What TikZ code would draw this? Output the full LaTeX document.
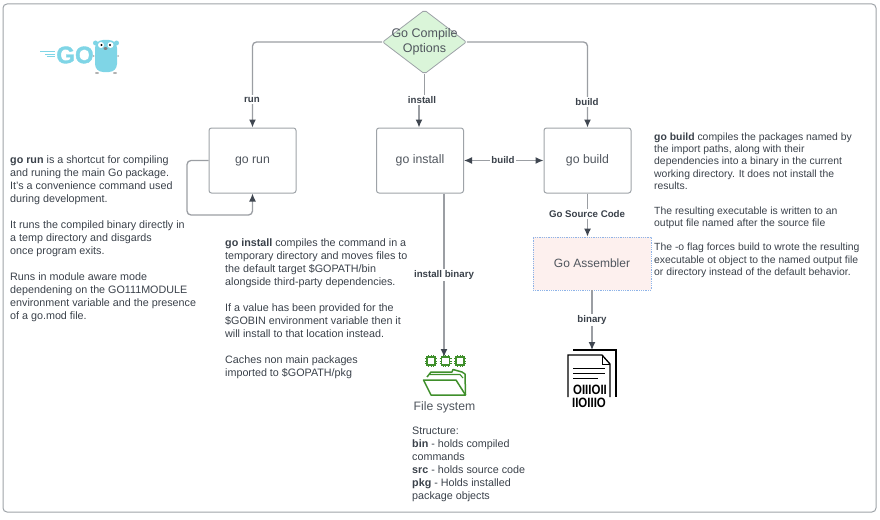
\documentclass[tikz,border=0pt]{standalone}
\usepackage{fontspec}
\setmainfont{Liberation Sans}
\usetikzlibrary{arrows.meta,shapes.geometric}
\definecolor{textgray}{HTML}{3A414A}
\definecolor{boxtext}{HTML}{50565E}
\definecolor{wiregray}{HTML}{9B9EA3}
\definecolor{tipgray}{HTML}{3F4650}
\definecolor{framegray}{HTML}{9EA3A8}
\definecolor{optgreen}{HTML}{DAF5D9}
\definecolor{asmpink}{HTML}{FDF0EE}
\definecolor{asmblue}{HTML}{8FB4E8}
\definecolor{gocyan}{HTML}{7FD5E6}
\definecolor{fsgreen}{HTML}{3F8F2B}
\tikzset{
    box/.style={draw=framegray, line width=1pt, rectangle, rounded corners=2.5pt, minimum width=87pt, minimum height=65pt,
        text=boxtext, text height=9pt, text depth=3pt, font=\fontsize{12.3}{15}\selectfont},
    wire/.style={draw=wiregray, line width=1.3pt, rounded corners=4pt, -{Latex[length=8pt,width=7pt,color=tipgray]}},
    plainwire/.style={draw=wiregray, line width=1.3pt},
    lab/.style={fill=white, inner xsep=1pt, inner ysep=1.5pt, text=textgray, font=\fontsize{9.7}{11}\selectfont\bfseries},
    para/.style={anchor=north west, inner sep=0pt, align=left, text=textgray, font=\fontsize{10.75}{13}\selectfont},
    parb/.style={para, font=\fontsize{10.4}{12.3}\selectfont},
    binrow/.style={inner sep=0pt, text=black, font=\fontsize{13.5}{13.5}\selectfont\bfseries\addfontfeature{FakeStretch=0.85}}
}
\begin{document}
\begin{tikzpicture}[x=1pt, y=-1pt]
        \useasboundingbox (0,0) rectangle (880,519);
        \draw[framegray, line width=1pt, rounded corners=4pt] (3,4) rectangle (876,512);

        \node[box] (gorun) at (252.5,160.5) {go run};
        \node[box] (goinstall) at (420,160.5) {go install};
        \node[box] (gobuild) at (587.5,160.5) {go build};
        \node[draw=framegray, line width=.8pt, fill=optgreen, diamond, rounded corners=2pt, minimum width=84pt, minimum height=64pt,
            inner sep=0pt] (options) at (424.5,42) {};
        \node[draw=asmblue, densely dotted, line width=.8pt, fill=asmpink, rectangle, minimum width=118pt, minimum height=53pt,
            text=boxtext, font=\fontsize{12}{15}\selectfont] (assembler) at (592,263.5) {Go Assembler};

        % file system and binary icons
        \coordinate (fsicon) at (444,357);
        \coordinate (binicon) at (592,350);
        \foreach \cx in {431,445.5,460} {
            \foreach \d in {-2.5,0,2.5} {
                \draw[fsgreen, line width=1pt] (\cx+\d,355) -- (\cx+\d,367);
                \draw[fsgreen, line width=1pt] (\cx-6,361+\d) -- (\cx+6,361+\d);
            }
            \draw[fsgreen, line width=1.8pt, fill=white] (\cx-4,357) rectangle (\cx+4,365);
        }
        \draw[fsgreen, line width=1.5pt, line join=round] (427,377) -- (431,372) -- (452,372) -- (453,369.5) -- (462,372) -- (465,374) -- (465.5,395);
        \draw[fsgreen, line width=1.1pt] (430,374.5) -- (460,374.5) -- (463,378);
        \draw[fsgreen, line width=1.5pt, line join=round] (423.5,380) -- (456,380) -- (465.5,395) -- (431,395) -- cycle;

        \draw[black, line width=1.3pt] (573,350) -- (616,350) -- (616,397);
        \draw[black, line width=1.3pt] (568,397) -- (568,355) -- (602,355) -- (610,364) -- (610,397);
        \draw[black, line width=1pt] (602,355) -- (602,364) -- (610,364);
        \foreach \ly/\lx in {368/605,373/605,378/598} {
            \draw[black, line width=1pt] (573,\ly) -- (\lx,\ly);
        }
        \node[binrow] (binrowa) at (590,390) {OIIIOII};
        \node[binrow] (binrowb) at (589,403) {IIOIIIO};

        % connectors
        \path[wire] (options.west) -| (gorun.north);
        \path[wire] (options.east) -| (gobuild.north);
        \coordinate (installjog) at (419,99);
        \path[plainwire] (options.south) |- (installjog);
        \path[wire] (installjog) -- (goinstall.north -| installjog);
        \path[wire, {Latex[length=8pt,width=7pt,color=tipgray]}-{Latex[length=8pt,width=7pt,color=tipgray]}] (goinstall) -- (gobuild);
        \path[wire] (goinstall.south -| fsicon) -- (fsicon);
        \path[wire] (gobuild) -- (assembler.north -| gobuild);
        \path[wire] (assembler) -- (binicon);
        \coordinate (loopa) at (187,215);
        \path[wire] (gorun.west) -| (loopa) -| (gorun.south);

        % edge labels
        \node[lab] (runlab) at (252,99.5) {run};
        \node[lab] (installlab) at (422,100) {install};
        \node[lab] (buildlab) at (587,102) {build};
        \node[lab] (linklab) at (503,160) {build};
        \node[lab] (binarylab) at (444,275) {install binary};
        \node[lab] (sourcelab) at (587,214) {Go Source Code};
        \node[lab] (asmlab) at (592,320) {binary};

        % diamond text sits over the shape
        \node[inner sep=0pt, text=boxtext, align=center, font=\fontsize{12.5}{15}\selectfont] (optionstext) at (424.5,41.5) {Go Compile\\Options};

        % go logo
        \foreach \sy/\sx in {52/40,54.5/45,57/47} {
            \draw[gocyan, line width=1pt] (\sx,\sy) -- (55,\sy);
        }
        \node[inner sep=0pt, text=gocyan, font=\fontsize{24}{24}\selectfont\bfseries\addfontfeature{FakeBold=1.5}] (golabel) at (75,55) {GO};
        \fill[gocyan, rounded corners=8pt] (95,40) rectangle (117,72);
        \fill[gocyan] (95.5,43) circle (2.5pt) (116.5,43) circle (2.5pt);
        \fill[white] (101,45) circle (3pt) (110.5,45) circle (3pt);
        \fill[black] (101.5,45) circle (1.2pt) (110,45) circle (1.2pt);
        \fill[gray] (105.5,48.5) ellipse (2pt and 1.4pt);
        \fill[gray!60] (97,73) ellipse (2pt and 1pt) (115,73) ellipse (2pt and 1pt) (93.5,56) circle (1pt) (118,56) circle (1pt);

        % text blocks
        \node[para] (runtext) at (10,155.5) {\textbf{go run} is a shortcut for compiling\\
            and runing the main Go package.\\
            It's a convenience command used\\
            during development.\\[13pt]
            It runs the compiled binary directly in\\
            a temp directory and disgards\\
            once program exits.\\[13pt]
            Runs in module aware mode\\
            dependening on the GO111MODULE\\
            environment variable and the presence\\
            of a go.mod file.};
        \node[para] (installtext) at (225,239) {\textbf{go install} compiles the command in a\\
            temporary directory and moves files to\\
            the default target \$GOPATH/bin\\
            alongside third-party dependencies.\\[13pt]
            If a value has been provided for the\\
            \$GOBIN environment variable then it\\
            will install to that location instead.\\[13pt]
            Caches non main packages\\
            imported to \$GOPATH/pkg};
        \node[parb] (buildtext) at (654,132.5) {\textbf{go build} compiles the packages named by\\
            the import paths, along with their\\
            dependencies into a binary in the current\\
            working directory. It does not install the\\
            results.\\[12.3pt]
            The resulting executable is written to an\\
            output file named after the source file\\[12.3pt]
            The -o flag forces build to wrote the resulting\\
            executable ot object to the named output file\\
            or directory instead of the default behavior.};
        \node[inner sep=0pt, text=boxtext, font=\fontsize{12.2}{15}\selectfont] (fslabel) at (444.5,407) {File system};
        \node[para] (fstext) at (412,427) {Structure:\\
            \textbf{bin} - holds compiled\\
            commands\\
            \textbf{src} - holds source code\\
            \textbf{pkg} - Holds installed\\
            package objects};
\end{tikzpicture}
\end{document}
